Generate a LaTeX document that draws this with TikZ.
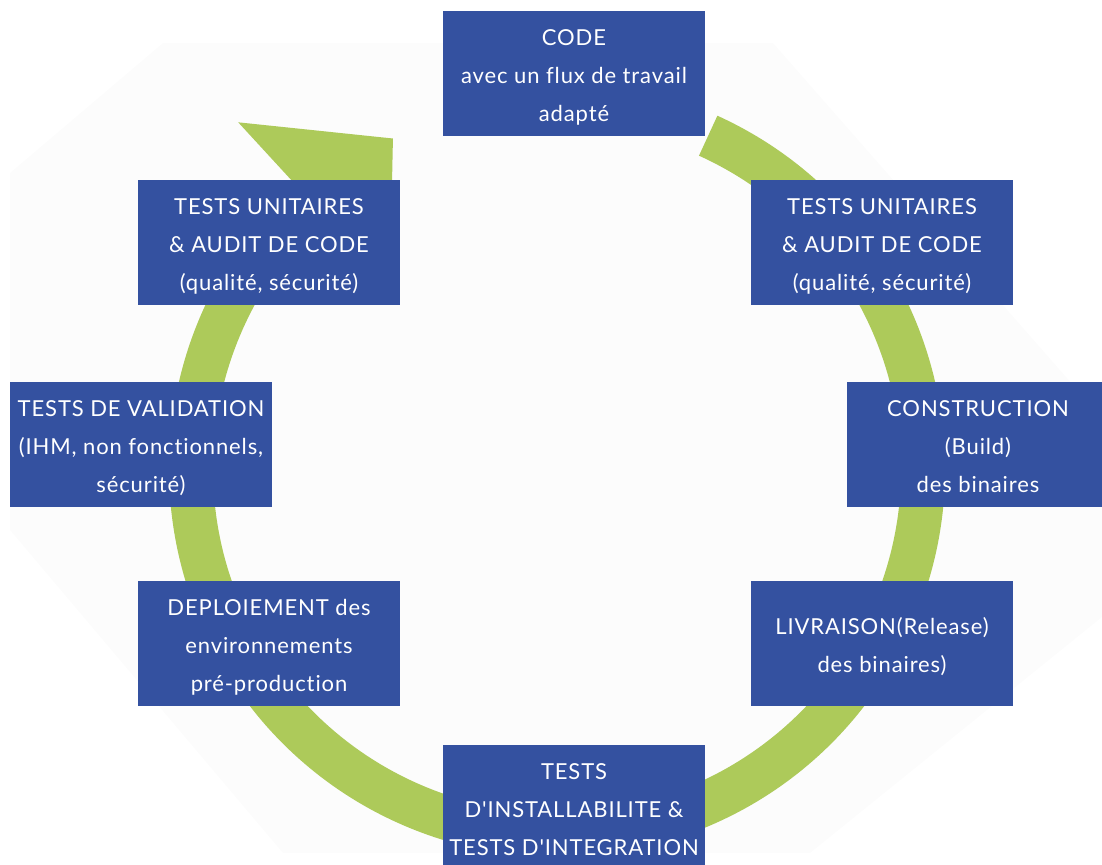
\documentclass[tikz,border=0pt]{standalone}
\usepackage{fontspec}
\setmainfont{Lato}[Ligatures={TeXOff,NoCommon}, LetterSpace=4]
\usetikzlibrary{calc}
\definecolor{boxblue}{RGB}{52,81,160}
\definecolor{ringgreen}{RGB}{173,202,90}
\definecolor{bgoct}{RGB}{252,252,252}
\newcommand\topstrut{\rule{0pt}{29pt}}
\newcommand\botstrut{\rule[-9pt]{0pt}{0pt}}
\begin{document}
\begin{tikzpicture}[x=1pt,y=-1pt,
  stage/.style={fill=boxblue, text=white, minimum width=262pt, minimum height=125pt,
    inner sep=0pt, align=center, font=\fontsize{22}{38}\selectfont}]
\useasboundingbox (0,0) rectangle (1102,864);
\clip (0,0) rectangle (1102,864);
% faint octagon background
\fill[bgoct] (163,43) -- (773,43) -- (1102,418) -- (1102,617) -- (810,853)
  -- (283,853) -- (10,530) -- (10,173) -- cycle;
% circular arrow
\coordinate (c) at (557,469);
\draw[ringgreen, line width=44pt] ($(c)+(-65.6:366)$) arc[start angle=-65.6, end angle=227.4, radius=366];
\fill[ringgreen] ($(c)+(-132.6:471)$) -- ($(c)+(-116.4:369)$) -- ($(c)+(-132.6:247)$) -- cycle;
% stages
\node[stage] (code) at (574,73.5) {\topstrut CODE\\avec un flux de travail\\\botstrut adapté};
\node[stage] (tur) at (882,242.5) {\topstrut TESTS UNITAIRES\\\& AUDIT DE CODE\\\botstrut (qualité, sécurité)};
\node[stage] (build) at (978,444.5) {\topstrut CONSTRUCTION\\(Build)\\\botstrut des binaires};
\node[stage] (rel) at (882,643.5) {\topstrut LIVRAISON(Release)\\\botstrut des binaires)};
\node[stage] (integ) at (574,807.5) {\topstrut TESTS\\D'INSTALLABILITE \&\\\botstrut TESTS D'INTEGRATION};
\node[stage] (deploy) at (269,643.5) {\topstrut DEPLOIEMENT des\\environnements\\\botstrut pré-production};
\node[stage] (valid) at (141,444.5) {\topstrut TESTS DE VALIDATION\\(IHM, non fonctionnels,\\\botstrut sécurité)};
\node[stage] (tul) at (269,242.5) {\topstrut TESTS UNITAIRES\\\& AUDIT DE CODE\\\botstrut (qualité, sécurité)};
\end{tikzpicture}
\end{document}
